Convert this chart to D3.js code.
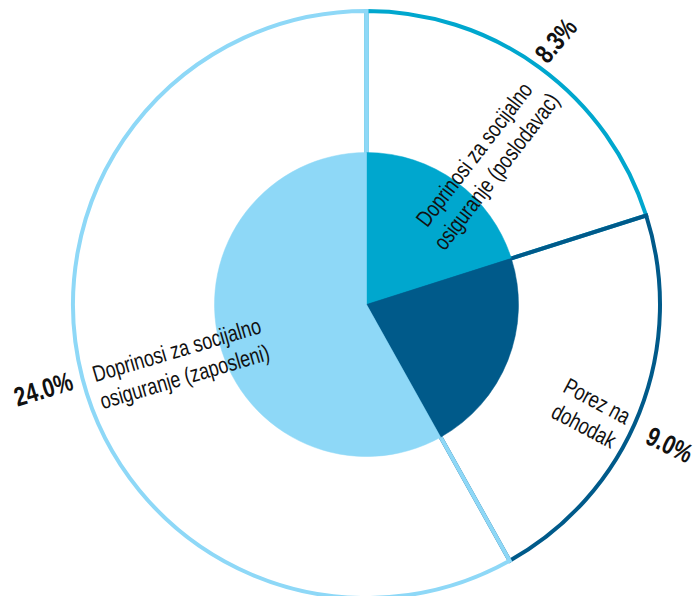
<!DOCTYPE html>
<html>
<head>
<meta charset="utf-8">
<script src="https://cdn.jsdelivr.net/npm/d3@7"></script>
<style>
  html, body { margin: 0; padding: 0; background: #fff; }
  svg { display: block; }
  text { font-family: "Liberation Sans", Arial, sans-serif; fill: #111; }
</style>
</head>
<body>
<svg id="chart" width="694" height="596"></svg>
<script>
// ---- data ----
const categories = [
  ["Doprinosi za socijalno", "osiguranje (poslodavac)"],
  ["Porez na", "dohodak"],
  ["Doprinosi za socijalno", "osiguranje (zaposleni)"]
];
const values = [8.3, 9.0, 24.0];
const valueLabels = ["8.3%", "9.0%", "24.0%"];
const colors = ["#00A7CE", "#005A8A", "#8ED8F7"];

// ---- layout ----
const cx = 366.5, cy = 304.5;
const R = 293.5, r = 152;
const NARROW = 0.78; // horizontal condensing of the label font

const svg = d3.select("#chart");
const g = svg.append("g").attr("transform", `translate(${cx},${cy})`);

const pie = d3.pie().sort(null).value(d => d)(values);

// outer outlined wedges
const outerArc = d3.arc().innerRadius(0).outerRadius(R);
g.selectAll("path.outer").data(pie).join("path")
  .attr("class", "outer")
  .attr("d", outerArc)
  .attr("fill", "none")
  .attr("stroke", (d, i) => colors[i])
  .attr("stroke-width", 4)
  .attr("stroke-linejoin", "miter");

// inner filled pie
const innerArc = d3.arc().innerRadius(0).outerRadius(r);
g.selectAll("path.inner").data(pie).join("path")
  .attr("class", "inner")
  .attr("d", innerArc)
  .attr("fill", (d, i) => colors[i])
  .attr("stroke", (d, i) => colors[i])
  .attr("stroke-width", 0.5);

const deg = a => a * 180 / Math.PI;
function polar(angleDeg, rad) {
  const a = angleDeg * Math.PI / 180;
  return [rad * Math.sin(a), -rad * Math.cos(a)];
}
function radialRot(angleDeg) {
  return angleDeg < 180 ? angleDeg - 90 : angleDeg - 270;
}

// category labels (angle offset, radius, rotation offset)
const catPlace = [
  { da: 4.4, rad: 185, dr: -3 },
  { da: 4.8, rad: 249, dr: 1.6 },
  { da: -3.5, rad: 195, dr: 1.6 }
];
pie.forEach((d, i) => {
  const mid = deg((d.startAngle + d.endAngle) / 2);
  const p = catPlace[i];
  const ang = mid + p.da;
  const [x, y] = polar(ang, p.rad);
  const rot = radialRot(ang) + p.dr;
  const t = g.append("text")
    .attr("transform", `translate(${x},${y}) rotate(${rot}) scale(${NARROW},1)`)
    .attr("text-anchor", "middle")
    .style("font-size", "23px");
  categories[i].forEach((line, k) => {
    t.append("tspan").attr("x", 0).attr("y", -8 + k * 28).text(line);
  });
});

// value labels
const valPlace = [
  { da: -0.6, rad: 325, dr: 4.5 },
  { da: 3.2, rad: 334, dr: 1 },
  { da: 0, rad: 334, dr: -2.5 }
];
pie.forEach((d, i) => {
  const mid = deg((d.startAngle + d.endAngle) / 2);
  const p = valPlace[i];
  const ang = mid + p.da;
  const [x, y] = polar(ang, p.rad);
  const rot = radialRot(ang) + p.dr;
  g.append("text")
    .attr("transform", `translate(${x},${y}) rotate(${rot}) scale(${NARROW},1)`)
    .attr("text-anchor", "middle")
    .attr("dy", "0.36em")
    .style("font-size", "27px")
    .style("font-weight", "bold")
    .text(valueLabels[i]);
});
</script>
</body>
</html>
